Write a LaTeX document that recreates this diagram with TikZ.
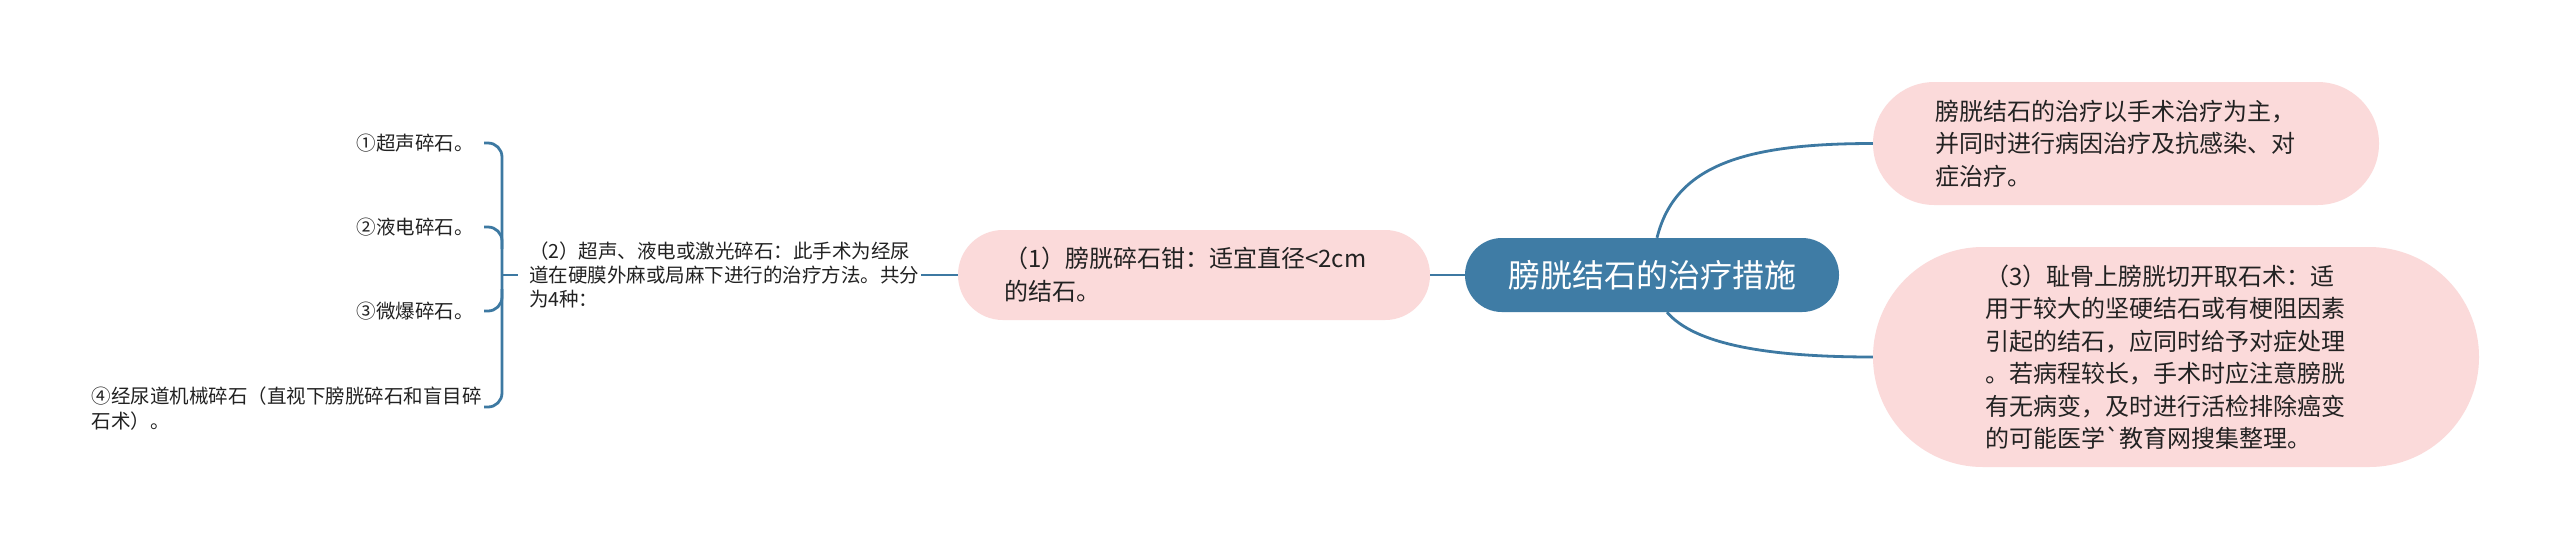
\documentclass[tikz,border=0pt]{standalone}
\usepackage{fontspec}
\newfontfamily\cjk{Noto Sans CJK SC}
\definecolor{linkblue}{HTML}{3D79A2}
\definecolor{rootblue}{HTML}{3F7CA5}
\definecolor{pinkfill}{HTML}{FBDADA}
\definecolor{txt}{HTML}{222222}
\tikzset{
  link/.style={draw=linkblue, line width=2.8pt},
  pinkbox/.style={fill=pinkfill, inner sep=0pt, align=left, text=txt,
    font={\cjk\fontsize{24}{32.5}\selectfont}},
  leaf/.style={inner sep=0pt, text=txt, font={\cjk\fontsize{19.5}{25}\selectfont}},
}
\begin{document}
\begin{tikzpicture}[x=1pt,y=-1pt]
\useasboundingbox[fill=white] (0,0) rectangle (2560,550);

% root
\node[fill=rootblue, text=white, rounded corners=36.9pt, minimum width=374pt,
  minimum height=74pt, inner sep=0pt, font={\cjk\fontsize{32}{38}\selectfont}]
  (c) at (1652,275) {膀胱结石的治疗措施};

% right nodes
\node[pinkbox, rounded corners=61.4pt, minimum width=506pt, minimum height=123pt,
  text width=382pt] (r1) at (2126,143.5)
  {膀胱结石的治疗以手术治疗为主，\\并同时进行病因治疗及抗感染、对\\症治疗。};
\node[pinkbox, rounded corners=109.9pt, minimum width=606pt, minimum height=220pt,
  text width=382pt] (r2) at (2176,357)
  {（3）耻骨上膀胱切开取石术：适\\用于较大的坚硬结石或有梗阻因素\\引起的结石，应同时给予对症处理\\。若病程较长，手术时应注意膀胱\\有无病变，及时进行活检排除癌变\\的可能医学`教育网搜集整理。};

% left nodes
\node[pinkbox, rounded corners=44.9pt, minimum width=472pt, minimum height=90pt,
  text width=380pt, font={\cjk\fontsize{24}{33}\selectfont}] (n1) at (1194,275)
  {（1）膀胱碎石钳：适宜直径<2cm\\的结石。};
\node[leaf, text width=392pt, align=left, font={\cjk\fontsize{19.5}{24}\selectfont}] (n2) at (725,275)
  {（2）超声、液电或激光碎石：此手术为经尿\\道在硬膜外麻或局麻下进行的治疗方法。共分\\为4种：};

\node[leaf, anchor=east] (l1) at (474,143) {①超声碎石。};
\node[leaf, anchor=east] (l2) at (474,227) {②液电碎石。};
\node[leaf, anchor=east] (l3) at (474,311) {③微爆碎石。};
\node[leaf, anchor=east, text width=382pt, align=left] (l4) at (474,409)
  {④经尿道机械碎石（直视下膀胱碎石和盲目碎\\石术）。};

% connectors
\draw[link] (n1.east) -- (c.west);
\draw[link] (n1.west) -- (n2.east);
\draw[link] ([xshift=5pt]c.north) .. controls (1675,165) and (1745,143.5) .. (r1.west);
\draw[link] ([xshift=15pt]c.south) .. controls (1695,345) and (1770,357) .. (r2.west);

% brace
\coordinate (bx) at (502,0);
\path (l1.east) ++(10,0) coordinate (t1);
\path (l2.east) ++(10,0) coordinate (t2);
\path (l3.east) ++(10,0) coordinate (t3);
\coordinate (t4) at (484,407);
\draw[link, rounded corners=14pt] (t1) -- (t1 -| bx) -- (t4 -| bx) -- (t4);
\draw[link, rounded corners=14pt] (t2) -- (t2 -| bx) -- ++(0,22);
\draw[link, rounded corners=14pt] (t3) -- (t3 -| bx) -- ++(0,-22);
\draw[link] (n2.west -| bx) -- ([xshift=-11pt]n2.west);
\end{tikzpicture}
\end{document}
